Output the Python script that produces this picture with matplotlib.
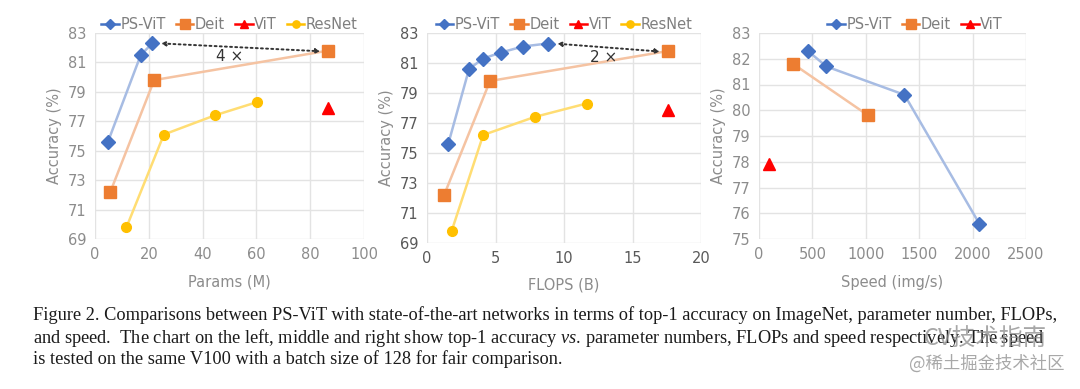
import numpy as np
import matplotlib.pyplot as plt

plt.rcParams['mathtext.fontset'] = 'custom'
plt.rcParams['mathtext.it'] = 'Liberation Serif:italic'
plt.rcParams['mathtext.rm'] = 'Liberation Serif'

# =============================
# DATA
# =============================
# Params (M)
psvit_params = [4.8, 17.0, 21.3]
psvit_params_acc = [75.6, 81.5, 82.3]
deit_params = [5.7, 22.0, 86.6]
deit_params_acc = [72.2, 79.8, 81.8]
vit_params = [86.6]
vit_params_acc = [77.9]
resnet_params = [11.7, 25.6, 44.5, 60.2]
resnet_params_acc = [69.8, 76.1, 77.4, 78.3]

# FLOPS (B)
psvit_flops = [1.55, 3.07, 4.1, 5.4, 7.0, 8.8]
psvit_flops_acc = [75.6, 80.6, 81.3, 81.7, 82.1, 82.3]
deit_flops = [1.25, 4.6, 17.6]
deit_flops_acc = [72.2, 79.8, 81.8]
vit_flops = [17.6]
vit_flops_acc = [77.9]
resnet_flops = [1.8, 4.1, 7.85, 11.65]
resnet_flops_acc = [69.8, 76.2, 77.4, 78.3]

# Speed (img/s)
psvit_speed = [459, 631, 1362, 2062]
psvit_speed_acc = [82.3, 81.7, 80.6, 75.6]
deit_speed = [319, 1022]
deit_speed_acc = [81.8, 79.8]
vit_speed = [91]
vit_speed_acc = [77.9]

caption_lines = [
    "Figure 2. Comparisons between PS-ViT with state-of-the-art networks in terms of top-1 accuracy on ImageNet, parameter number, FLOPs,",
    "and speed.  The chart on the left, middle and right show top-1 accuracy $\\mathit{vs}$. parameter numbers, FLOPs and speed respectively. The speed",
    "is tested on the same V100 with a batch size of 128 for fair comparison.",
]

# =============================
# STYLE
# =============================
BLUE, BLUE_L = '#4472C4', '#A7BCE3'
ORANGE, ORANGE_L = '#ED7D31', '#F5C3A2'
RED = '#FF0000'
YELLOW, YELLOW_L = '#FFC000', '#FFDD73'
GRID = '#E3E3E3'

fig = plt.figure(figsize=(10.8, 3.89), dpi=100)


def style_ax(ax, tick_color):
    for s in ax.spines.values():
        s.set_visible(False)
    ax.grid(True, color=GRID, linewidth=1.0)
    ax.set_axisbelow(True)
    ax.tick_params(length=0, labelsize=10.5, colors=tick_color, pad=6)


def series(ax, x, y, mk, c, cl, ms, label):
    ax.plot(x, y, '-', color=cl, linewidth=1.8, zorder=2)
    ax.plot(x, y, mk, color=c, markersize=ms, zorder=3)
    # legend proxy
    ax.plot([], [], '-', marker=mk, color=c, markersize=ms * 0.75,
            linewidth=1.8, label=label, markerfacecolor=c)


# ---------- left: params ----------
ax1 = fig.add_axes([95 / 1080, 1 - 239 / 389, 269 / 1080, 206 / 389])
style_ax(ax1, '#8C8C8C')
series(ax1, psvit_params, psvit_params_acc, 'D', BLUE, BLUE_L, 7, 'PS-ViT')
series(ax1, deit_params, deit_params_acc, 's', ORANGE, ORANGE_L, 9, 'Deit')
series(ax1, vit_params, vit_params_acc, '^', RED, RED, 8, 'ViT')
series(ax1, resnet_params, resnet_params_acc, 'o', YELLOW, YELLOW_L, 7, 'ResNet')
ax1.set_xlim(0, 100)
ax1.set_ylim(69, 83)
ax1.set_xticks(np.arange(0, 101, 20))
ax1.set_yticks(np.arange(69, 84, 2))
ax1.set_xlabel('Params (M)', color='#8C8C8C', fontsize=10.5, labelpad=9)
ax1.set_ylabel('Accuracy (%)', color='#8C8C8C', fontsize=10.5)
ax1.annotate('', xy=(84.8, 81.75), xytext=(23.5, 82.3),
             arrowprops=dict(arrowstyle='<|-|>', linestyle=':', color='#333333',
                             lw=1.4, mutation_scale=6))
ax1.text(50, 81.4, '4 ×', fontsize=11, color='#333333', ha='center', va='center')

# ---------- middle: flops ----------
ax2 = fig.add_axes([427 / 1080, 1 - 243 / 389, 274 / 1080, 210 / 389])
style_ax(ax2, '#595959')
series(ax2, psvit_flops, psvit_flops_acc, 'D', BLUE, BLUE_L, 7, 'PS-ViT')
series(ax2, deit_flops, deit_flops_acc, 's', ORANGE, ORANGE_L, 9, 'Deit')
series(ax2, vit_flops, vit_flops_acc, '^', RED, RED, 8, 'ViT')
series(ax2, resnet_flops, resnet_flops_acc, 'o', YELLOW, YELLOW_L, 7, 'ResNet')
ax2.set_xlim(0, 20)
ax2.set_ylim(69, 83)
ax2.set_xticks(np.arange(0, 21, 5))
ax2.set_yticks(np.arange(69, 84, 2))
ax2.set_xlabel('FLOPS (B)', color='#8C8C8C', fontsize=10.5, labelpad=8)
ax2.set_ylabel('Accuracy (%)', color='#8C8C8C', fontsize=10.5)
ax2.annotate('', xy=(17.2, 81.75), xytext=(9.3, 82.3),
             arrowprops=dict(arrowstyle='<|-|>', linestyle=':', color='#333333',
                             lw=1.4, mutation_scale=6))
ax2.text(12.9, 81.4, '2 ×', fontsize=11, color='#333333', ha='center', va='center')

# ---------- right: speed ----------
ax3 = fig.add_axes([759 / 1080, 1 - 239 / 389, 267 / 1080, 206 / 389])
style_ax(ax3, '#8C8C8C')
series(ax3, psvit_speed, psvit_speed_acc, 'D', BLUE, BLUE_L, 7, 'PS-ViT')
series(ax3, deit_speed, deit_speed_acc, 's', ORANGE, ORANGE_L, 9, 'Deit')
series(ax3, vit_speed, vit_speed_acc, '^', RED, RED, 8, 'ViT')
ax3.set_xlim(0, 2500)
ax3.set_ylim(75, 83)
ax3.set_xticks(np.arange(0, 2501, 500))
ax3.set_yticks(np.arange(75, 84, 1))
ax3.set_xlabel('Speed (img/s)', color='#8C8C8C', fontsize=10.5, labelpad=9)
ax3.set_ylabel('Accuracy (%)', color='#8C8C8C', fontsize=10.5)

for ax, xc in ((ax1, 0.5), (ax2, 0.5), (ax3, 0.585)):
    leg = ax.legend(loc='lower center', bbox_to_anchor=(xc, 0.975), ncol=4,
                    frameon=False, fontsize=10.5, handlelength=1.2,
                    handletextpad=0.1, columnspacing=0.7, borderaxespad=0)
    for t in leg.get_texts():
        t.set_color('#7F7F7F')

# caption, one line at a time (baselines)
for line, base in zip(caption_lines, [320, 343, 364]):
    fig.text(33 / 1080, 1 - base / 389, line, fontsize=13.2,
             family='Liberation Serif', color='#1A1A1A',
             ha='left', va='baseline')

# watermarks
cjk = ['Noto Sans CJK SC', 'DejaVu Sans']
fig.text(1047 / 1080, 1 - 338 / 389, 'CV技术指南', fontsize=17, family=cjk,
         color='#8A8A8A', alpha=0.75, ha='right', va='center')
fig.text(1065 / 1080, 1 - 364 / 389, '@稀土掘金技术社区', fontsize=12.5,
         family=cjk, color='#A8A8A8', ha='right', va='center')

fig.savefig('out.png', dpi=100)
